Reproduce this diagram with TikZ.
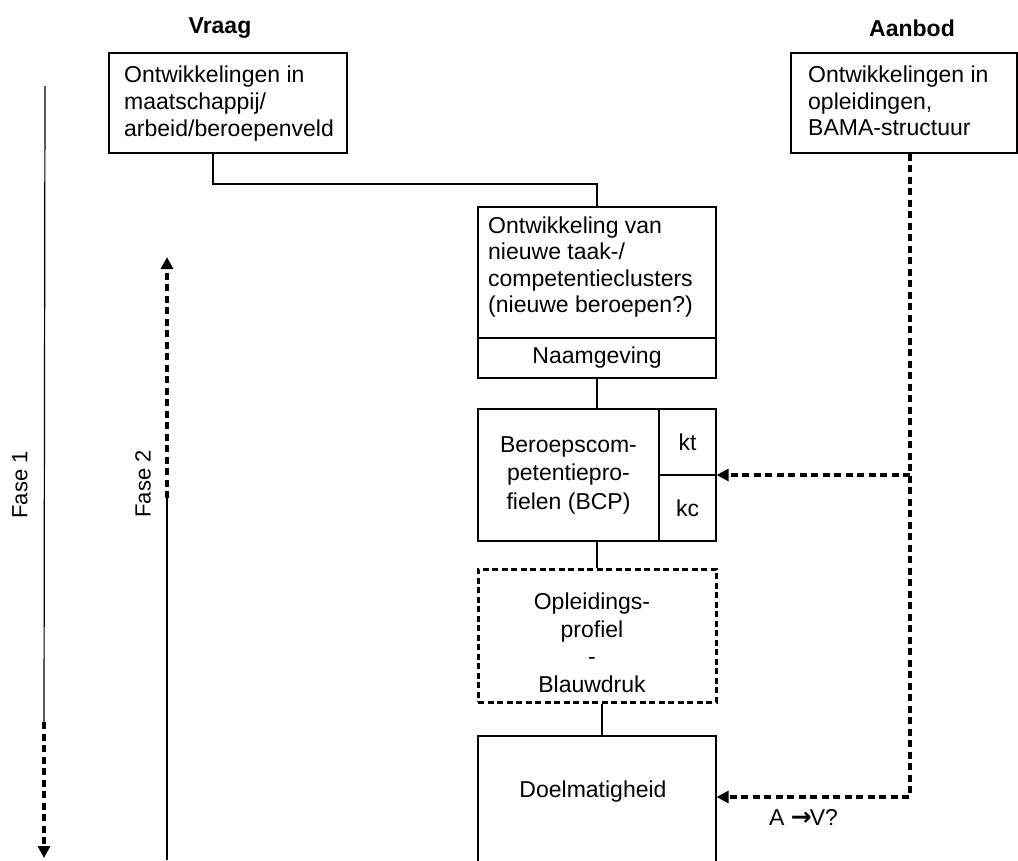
\documentclass[tikz,border=0pt]{standalone}
\usepackage{fontspec}
\setmainfont{Liberation Sans}
\newfontfamily\symfont{DejaVu Sans}
\usetikzlibrary{arrows.meta}
\tikzset{
  boxstyle/.style={draw=black, line width=1.2pt, rectangle, inner sep=0pt, font=\fontsize{23}{27}\selectfont},
  txt/.style={inner sep=0pt, font=\fontsize{23}{27}\selectfont},
  head/.style={inner sep=0pt, font=\fontsize{23}{27}\selectfont\bfseries},
  solidline/.style={draw=black, line width=1.2pt},
  dashline/.style={draw=black, line width=3.2pt, dash pattern=on 7pt off 4.5pt},
  tip/.style={-{Triangle[length=12pt,width=12pt]}},
}
\begin{document}
\begin{tikzpicture}[x=1pt,y=-1pt]
\useasboundingbox (0,0) rectangle (1018,860);
\clip (0,0) rectangle (1018,860);
\fill[white] (0,0) rectangle (1018,860);

% headings
\node[head] (vraag) at (220,28) {Vraag};
\node[head] (aanbod) at (912,28) {Aanbod};

% box 1
\node[boxstyle, minimum width=238pt, minimum height=100pt] (b1) at (228,103) {};
\node[txt, anchor=west, align=left] (t1) at (124,104) {Ontwikkelingen in\\maatschappij/\\arbeid/beroepenveld};

% box 2
\node[boxstyle, minimum width=226pt, minimum height=100pt] (b2) at (904,103) {};
\node[txt, anchor=west, align=left, font=\fontsize{23}{26.5}\selectfont] (t2) at (808,101) {Ontwikkelingen in\\opleidingen,\\BAMA-structuur};

% box 3
\node[boxstyle, minimum width=238pt, minimum height=131pt] (b3top) at (597,272.5) {};
\node[txt, anchor=west, align=left, font=\fontsize{23}{26.3}\selectfont] (t3) at (488,267) {Ontwikkeling van\\nieuwe taak-/\\competentieclusters\\(nieuwe beroepen?)};
\node[boxstyle, minimum width=238pt, minimum height=40pt] (b3name) at (597,358) {Naamgeving};

% box 4
\node[boxstyle, minimum width=181pt, minimum height=132pt, align=center, font=\fontsize{23}{28.5}\selectfont] (b4l) at (568.5,475) {Beroepscom-\\petentiepro-\\fielen (BCP)};
\node[boxstyle, minimum width=57pt, minimum height=66pt] (b4kt) at (687.5,442) {kt};
\node[boxstyle, minimum width=57pt, minimum height=66pt] (b4kc) at (687.5,508) {kc};

% box 5 (dashed)
\node[boxstyle, line width=3pt, dash pattern=on 6pt off 3.5pt, minimum width=238pt, minimum height=133pt] (b5) at (597,635.5) {};
\node[txt, align=center, font=\fontsize{23}{27.5}\selectfont] (t5) at (592,643) {Opleidings-\\profiel\\-\\Blauwdruk};

% box 6
\node[boxstyle, minimum width=238pt, minimum height=144pt] (b6) at (597,808) {};
\node[txt] (t6) at (593,792) {Doelmatigheid};

% connectors
\coordinate (c1) at (213,184);
\draw[solidline] (b1.south -| c1) -- (c1) -- (c1 -| b3top.north) -- (b3top.north);
\draw[solidline] (b3name.south) -- (b3name.south |- b4l.north);
\draw[solidline] (b4l.south -| b5.north) -- (b5.north);
\draw[solidline] ([xshift=5pt]b5.south) -- ([xshift=5pt]b6.north);

% dashed feedback from Aanbod
\coordinate (j1) at (910,475);
\coordinate (j2) at (910,797);
\draw[dashline, tip] (b2.south -| j1) -- (j2) -- (j2 -| b6.east);
\draw[dashline, tip] (j1) -- (j1 -| b4kt.east);
\node[txt, anchor=west] (av) at (769,817) {A {\symfont\bfseries\fontsize{25}{28}\selectfont →}\kern-2ptV?};

% Fase 1
\coordinate (f1a) at (45,86);
\coordinate (f1b) at (44,722);
\coordinate (f1c) at (44,858);
\draw[solidline] (f1a) -- (f1b);
\draw[dashline, tip] (f1b) -- (f1c);
\node[txt, rotate=90, font=\fontsize{22}{26}\selectfont] (fase1) at (20,485) {Fase 1};

% Fase 2
\coordinate (f2a) at (167,860);
\coordinate (f2b) at (167,498);
\coordinate (f2c) at (167,257);
\draw[solidline] (f2a) -- (f2b);
\draw[dashline, tip] (f2b) -- (f2c);
\node[txt, rotate=90, font=\fontsize{22}{26}\selectfont] (fase2) at (143,484) {Fase 2};
\end{tikzpicture}
\end{document}
